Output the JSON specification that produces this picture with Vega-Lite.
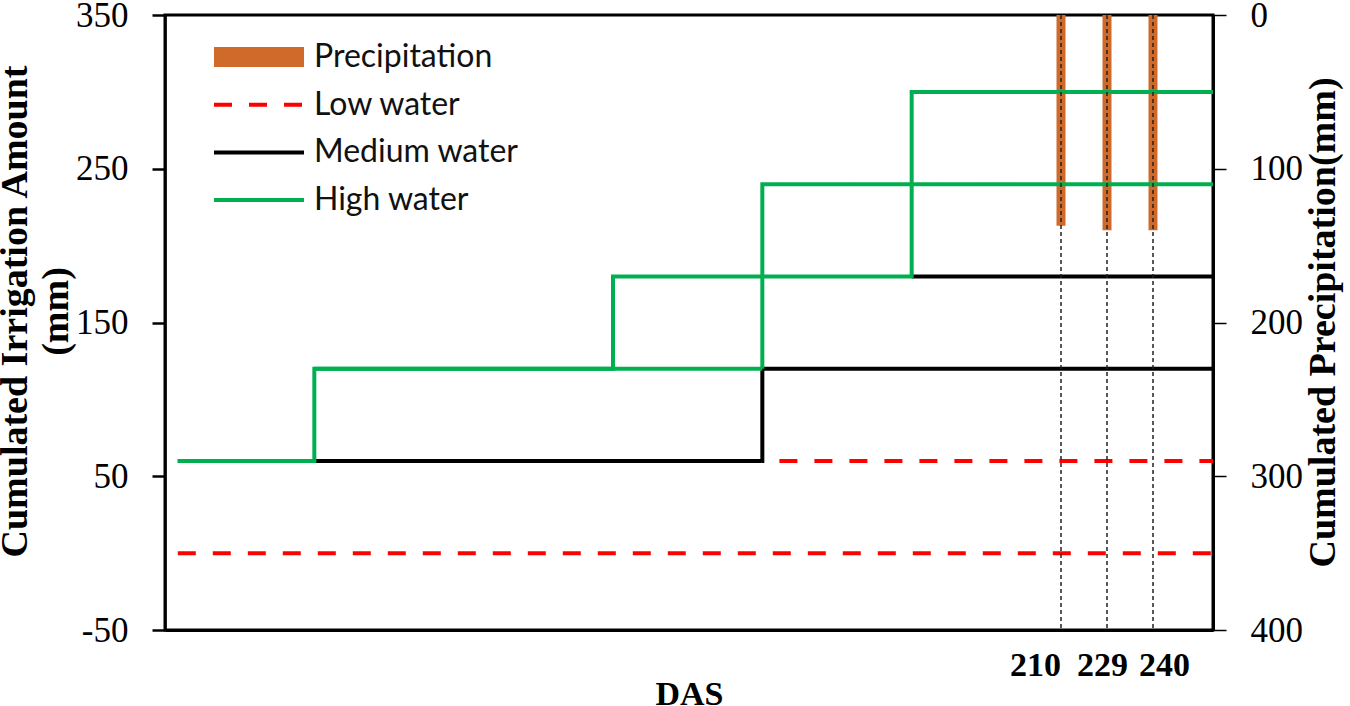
{
  "$schema": "https://vega.github.io/schema/vega-lite/v6.json",
  "width": 1048,
  "height": 615,
  "autosize": {"type": "none"},
  "padding": {"left": 165, "top": 15, "right": 137, "bottom": 76},
  "background": "white",
  "view": {"stroke": "black", "strokeWidth": 3},
  "datasets": {
    "precip": [
      {"series": "Precipitation", "das": 210, "rain": 137},
      {"series": "Precipitation", "das": 229, "rain": 140},
      {"series": "Precipitation", "das": 240, "rain": 140}
    ],
    "lines": [
      {"series": "Low water", "path": "L1", "das": 3, "v": 0},
      {"series": "Low water", "path": "L1", "das": 254, "v": 0},
      {"series": "Low water", "path": "L2", "das": 144, "v": 60},
      {"series": "Low water", "path": "L2", "das": 254, "v": 60},
      {"series": "Medium water", "path": "M1", "das": 3, "v": 60},
      {"series": "Medium water", "path": "M1", "das": 140, "v": 120},
      {"series": "Medium water", "path": "M1", "das": 254, "v": 120},
      {"series": "Medium water", "path": "M2", "das": 175, "v": 180},
      {"series": "Medium water", "path": "M2", "das": 254, "v": 180},
      {"series": "High water", "path": "H1", "das": 3, "v": 60},
      {"series": "High water", "path": "H1", "das": 35, "v": 120},
      {"series": "High water", "path": "H1", "das": 105, "v": 180},
      {"series": "High water", "path": "H1", "das": 175, "v": 300},
      {"series": "High water", "path": "H1", "das": 254, "v": 300},
      {"series": "High water", "path": "H2", "das": 35, "v": 120},
      {"series": "High water", "path": "H2", "das": 140, "v": 240},
      {"series": "High water", "path": "H2", "das": 254, "v": 240}
    ]
  },
  "layer": [
    {
      "data": {"name": "precip"},
      "mark": {"type": "rule", "strokeWidth": 9},
      "encoding": {
        "x": {
          "field": "das", "type": "quantitative",
          "scale": {"domain": [0, 210, 229, 240, 254], "range": [0, 896, 942, 988, 1048], "zero": false, "nice": false},
          "axis": {
            "title": "DAS", "values": [210, 229, 240], "ticks": false, "grid": false,
            "domainColor": "black", "domainWidth": 3,
            "labelFont": "Liberation Serif", "labelFontSize": 34, "labelFontWeight": "bold", "labelColor": "black",
            "labelPadding": 18, "labelFlush": false, "labelOverlap": false,
            "labelOffset": {"condition": [{"test": "datum.value === 210", "value": -26}, {"test": "datum.value === 240", "value": 11}], "value": -5},
            "titleFont": "Liberation Serif", "titleFontSize": 34, "titleFontWeight": "bold", "titleColor": "black", "titlePadding": -5
          }
        },
        "y": {
          "field": "rain", "type": "quantitative",
          "scale": {"domain": [0, 400], "reverse": true, "nice": false, "zero": false},
          "axis": {
            "orient": "right", "title": "Cumulated Precipitation(mm)", "values": [0, 100, 200, 300, 400], "grid": false,
            "tickSize": 13, "tickWidth": 1.5, "tickColor": "black", "domainColor": "black", "domainWidth": 3,
            "labelFont": "Liberation Serif", "labelFontSize": 35, "labelColor": "black", "labelPadding": 24, "labelFlush": false,
            "titleFont": "Liberation Serif", "titleFontSize": 38, "titleFontWeight": "bold", "titleColor": "black",
            "titleAngle": 270, "titleBaseline": "top", "titlePadding": 2, "titleY": 307
          }
        },
        "y2": {"datum": 0},
        "color": {
          "field": "series", "type": "nominal",
          "scale": {"domain": ["Precipitation", "Low water", "Medium water", "High water"], "range": ["#CF6A2B", "#FF0000", "#000000", "#00B050"]},
          "legend": {
            "orient": "none", "legendX": 49, "legendY": 26, "title": null, "padding": 0,
            "symbolType": "M-9,0H9", "symbolSize": 100, "symbolStrokeWidth": 4, "symbolOffset": 29,
            "labelOffset": 39, "rowPadding": 15.7, "labelLimit": 0,
            "labelFont": "Lato", "labelFontSize": 32, "labelColor": "#111",
            "encode": {
              "symbols": {
                "update": {
                  "shape": {"signal": "datum.value === 'Precipitation' ? 'M-9,-2H9V2H-9Z' : 'M-9,0H9'"},
                  "fill": {"signal": "datum.value === 'Precipitation' ? '#CF6A2B' : 'transparent'"},
                  "strokeDash": {"signal": "datum.value === 'Low water' ? [18, 17] : [1, 0]"},
                  "strokeOpacity": {"signal": "datum.value === 'Precipitation' ? 0 : 1"},
                  "opacity": {"value": 1}
                }
              }
            }
          }
        }
      }
    },
    {
      "data": {"name": "lines"},
      "mark": {"type": "line", "interpolate": "step-after", "strokeWidth": 4, "strokeJoin": "miter"},
      "encoding": {
        "x": {"field": "das", "type": "quantitative", "scale": {"domain": [0, 210, 229, 240, 254], "range": [0, 896, 942, 988, 1048], "zero": false, "nice": false}},
        "y": {
          "field": "v", "type": "quantitative",
          "scale": {"domain": [-50, 350], "nice": false, "zero": false},
          "axis": {
            "orient": "left", "title": ["Cumulated Irrigation Amount", "(mm)"], "values": [-50, 50, 150, 250, 350], "grid": false,
            "labelExpr": "datum.value < 0 ? '-' + abs(datum.value) : '' + datum.value",
            "tickSize": 13, "tickWidth": 2.5, "tickColor": "black", "domainColor": "black", "domainWidth": 2.5,
            "labelFont": "Liberation Serif", "labelFontSize": 35, "labelColor": "black", "labelPadding": 24, "labelFlush": false,
            "titleFont": "Liberation Serif", "titleFontSize": 38, "titleFontWeight": "bold", "titleColor": "black",
            "titleLineHeight": 41, "titlePadding": 0, "titleY": 296
          }
        },
        "color": {"field": "series", "type": "nominal", "scale": {"domain": ["Precipitation", "Low water", "Medium water", "High water"], "range": ["#CF6A2B", "#FF0000", "#000000", "#00B050"]}},
        "detail": {"field": "path"},
        "strokeDash": {"condition": {"test": "datum.series === 'Low water'", "value": [18, 17]}, "value": [1, 0]}
      }
    },
    {
      "data": {"name": "precip"},
      "mark": {"type": "rule", "strokeDash": [4, 3], "strokeWidth": 1.5, "color": "#222"},
      "encoding": {
        "x": {"field": "das", "type": "quantitative", "scale": {"domain": [0, 210, 229, 240, 254], "range": [0, 896, 942, 988, 1048], "zero": false, "nice": false}}
      }
    }
  ],
  "resolve": {"scale": {"y": "independent"}}
}
